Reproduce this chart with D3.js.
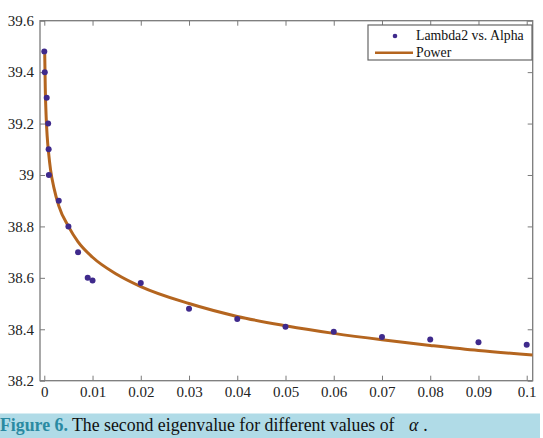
<!DOCTYPE html>
<html lang="en">
<head>
<meta charset="utf-8">
<title>Second eigenvalue vs alpha</title>
<script src="https://cdn.jsdelivr.net/npm/d3@7"></script>
<style>
  body { margin: 0; background: #fff; }
  svg text { font-family: "Liberation Serif", "Times New Roman", serif; }
</style>
</head>
<body>
<script>
// data
var alphaVals = [0, 0.0001, 0.0005, 0.0008, 0.0009, 0.00095, 0.003, 0.005, 0.007, 0.009, 0.01,
                 0.02, 0.03, 0.04, 0.05, 0.06, 0.07, 0.08, 0.09, 0.1];
var lambda2 = [39.48, 39.40, 39.30, 39.20, 39.10, 39.00, 38.90, 38.80, 38.70, 38.60, 38.59,
               38.58, 38.48, 38.44, 38.41, 38.39, 38.37, 38.36, 38.35, 38.34];

// "Power" fit line
var powerAlpha = [0.00009, 0.0002, 0.0004, 0.0006, 0.0009, 0.0013, 0.002, 0.003, 0.005, 0.007,
                  0.01, 0.015, 0.02, 0.03, 0.04, 0.05, 0.06, 0.07, 0.08, 0.09, 0.1012];
var powerVals = [39.47, 39.34, 39.22, 39.15, 39.085, 39.02, 38.95, 38.88, 38.80, 38.74,
                 38.68, 38.614, 38.566, 38.50, 38.45, 38.414, 38.384, 38.359, 38.337, 38.317, 38.30];

var xTicks = [0, 0.01, 0.02, 0.03, 0.04, 0.05, 0.06, 0.07, 0.08, 0.09, 0.1];
var yTicks = [38.2, 38.4, 38.6, 38.8, 39, 39.2, 39.4, 39.6];

var w = 543, h = 438;
var plotL = 40, plotR = 532.7, plotT = 20.7, plotB = 380.7;

var svg = d3.select("body").append("svg")
    .attr("width", w)
    .attr("height", h);

var x = d3.scaleLinear().domain([-0.00089, 0.10124]).range([plotL, plotR]);
var y = d3.scaleLinear().domain([38.2, 39.6]).range([plotB, plotT]);

var frameColor = "#7a7a7a";

// axes, ticks pointing inward on all four sides
var gx = svg.append("g")
    .attr("transform", "translate(0," + plotB + ")")
    .call(d3.axisBottom(x).tickValues(xTicks).tickSizeInner(-5).tickSizeOuter(0).tickPadding(6)
        .tickFormat(function(d) { return +d.toFixed(2); }));
var gxTop = svg.append("g")
    .attr("transform", "translate(0," + plotT + ")")
    .call(d3.axisTop(x).tickValues(xTicks).tickSizeInner(-5).tickSizeOuter(0).tickFormat(""));
var gy = svg.append("g")
    .attr("transform", "translate(" + plotL + ",0)")
    .call(d3.axisLeft(y).tickValues(yTicks).tickSizeInner(-5).tickSizeOuter(0).tickPadding(6)
        .tickFormat(function(d) { return +d.toFixed(1); }));
var gyRight = svg.append("g")
    .attr("transform", "translate(" + plotR + ",0)")
    .call(d3.axisRight(y).tickValues(yTicks).tickSizeInner(-5).tickSizeOuter(0).tickFormat(""));

[gx, gxTop, gy, gyRight].forEach(function(g) {
    g.select(".domain").remove();
    g.selectAll("line").attr("stroke", frameColor);
    g.selectAll("text")
        .attr("fill", "#222")
        .style("font-size", "15px")
        .style("font-family", "'Liberation Serif', serif");
});

svg.append("rect")
    .attr("x", plotL).attr("y", plotT)
    .attr("width", plotR - plotL).attr("height", plotB - plotT)
    .attr("fill", "none")
    .attr("stroke", frameColor)
    .attr("stroke-width", 1.3);

// fit line
var powerData = powerAlpha.map(function(a, i) { return [a, powerVals[i]]; });
var line = d3.line()
    .x(function(d) { return x(d[0]); })
    .y(function(d) { return y(d[1]); })
    .curve(d3.curveMonotoneX);

var plot = svg.append("g");

plot.append("path")
    .datum(powerData)
    .attr("d", line)
    .attr("fill", "none")
    .attr("stroke", "#b4651f")
    .attr("stroke-width", 3);

// points
var pts = alphaVals.map(function(a, i) { return [a, lambda2[i]]; });
plot.selectAll("circle.pt")
    .data(pts)
    .enter().append("circle")
    .attr("class", "pt")
    .attr("cx", function(d) { return x(d[0]); })
    .attr("cy", function(d) { return y(d[1]); })
    .attr("r", 3)
    .attr("fill", "#3f2a8c");

// legend
var lg = svg.append("g").attr("transform", "translate(368,25)");
lg.append("rect")
    .attr("width", 164).attr("height", 35)
    .attr("fill", "#fff")
    .attr("stroke", "#666")
    .attr("stroke-width", 1.2);
lg.append("circle")
    .attr("cx", 27).attr("cy", 11).attr("r", 2.3)
    .attr("fill", "#3f2a8c");
lg.append("text")
    .attr("x", 48).attr("y", 15)
    .style("font-size", "13.8px")
    .attr("fill", "#111")
    .text("Lambda2 vs. Alpha");
lg.append("line")
    .attr("x1", 7).attr("x2", 45)
    .attr("y1", 27.7).attr("y2", 27.7)
    .attr("stroke", "#b4651f")
    .attr("stroke-width", 2.5);
lg.append("text")
    .attr("x", 48).attr("y", 31.5)
    .style("font-size", "13.8px")
    .attr("fill", "#111")
    .text("Power");

// caption band
svg.append("rect")
    .attr("x", 0).attr("y", 413.5)
    .attr("width", 540).attr("height", 24.5)
    .attr("fill", "#b0dbe7");

var cap = svg.append("text")
    .attr("x", 0).attr("y", 431)
    .style("font-size", "17.8px")
    .attr("fill", "#111");
cap.append("tspan")
    .attr("fill", "#2a8aa2")
    .attr("font-weight", "bold")
    .text("Figure 6.");
cap.append("tspan").text(" The second eigenvalue for different values of ");
cap.append("tspan")
    .attr("dx", 10)
    .attr("font-style", "italic")
    .text("\u03b1");
cap.append("tspan").attr("dx", 5).text(".");
</script>
</body>
</html>
